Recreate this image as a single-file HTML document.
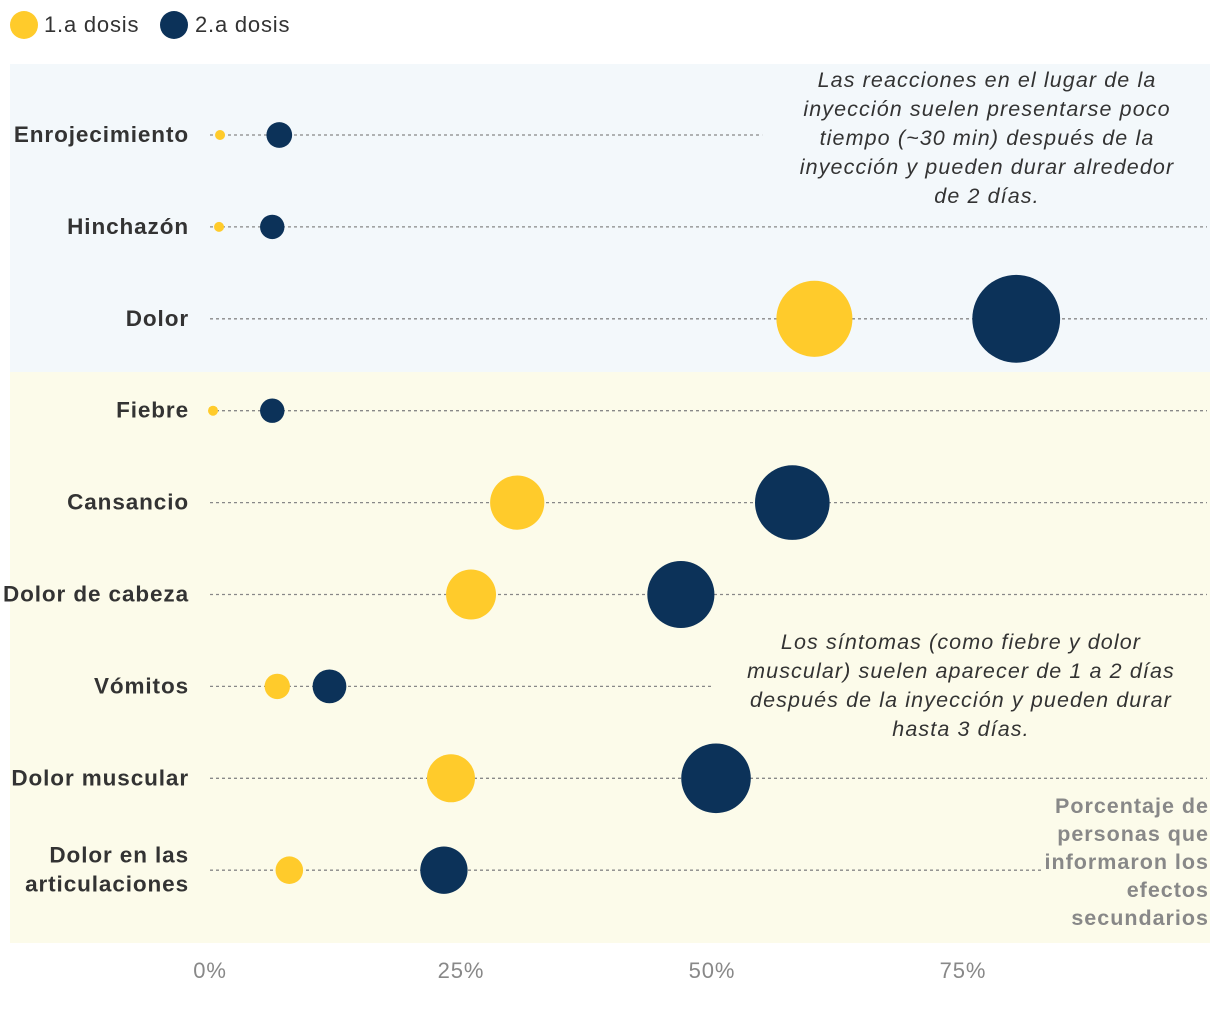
<!DOCTYPE html>
<html><head><meta charset="utf-8"><style>
body{margin:0;background:#fff;font-family:"Liberation Sans",sans-serif;}
svg{display:block}
</style></head><body>
<svg id="chart" width="1220" height="1010">
<rect x="10" y="64" width="1200" height="308" fill="#F3F8FB"/>
<rect x="10" y="372" width="1200" height="571" fill="#FCFBEA"/>
<g>
<circle cx="24" cy="25" r="14" fill="#FFCB2B"/>
<text x="44" y="32" font-size="22" letter-spacing="0.8" fill="#333">1.a dosis</text>
<circle cx="174" cy="25" r="14" fill="#0C3259"/>
<text x="195" y="32" font-size="22" letter-spacing="0.8" fill="#333">2.a dosis</text>
</g>
<g id="rows"></g>
<g id="ticks"></g>
<g font-style="italic" font-size="21.5" letter-spacing="1.1" fill="#333" text-anchor="middle">
<text x="987" y="87">Las reacciones en el lugar de la</text>
<text x="987" y="116">inyección suelen presentarse poco</text>
<text x="987" y="145">tiempo (~30 min) después de la</text>
<text x="987" y="174">inyección y pueden durar alrededor</text>
<text x="987" y="203">de 2 días.</text>
</g>
<g font-style="italic" font-size="21.5" letter-spacing="1.1" fill="#333" text-anchor="middle">
<text x="961" y="649">Los síntomas (como fiebre y dolor</text>
<text x="961" y="678">muscular) suelen aparecer de 1 a 2 días</text>
<text x="961" y="707">después de la inyección y pueden durar</text>
<text x="961" y="736">hasta 3 días.</text>
</g>
<g font-weight="bold" font-size="21.5" letter-spacing="1" fill="#888" text-anchor="end">
<text x="1209" y="813">Porcentaje de</text>
<text x="1209" y="841">personas que</text>
<text x="1209" y="869">informaron los</text>
<text x="1209" y="897">efectos</text>
<text x="1209" y="925">secundarios</text>
</g>
</svg>
<script>
const categories=["Enrojecimiento","Hinchazón","Dolor","Fiebre","Cansancio","Dolor de cabeza","Vómitos","Dolor muscular","Dolor en las|articulaciones"];
const dose1=[1,0.9,60.2,0.3,30.6,26,6.7,24,7.9];
const dose2=[6.9,6.2,80.3,6.2,58,46.9,11.9,50.4,23.3];
const lineEnds=[55,100,100,100,100,100,50,100,83];
const tickValues=[0,25,50,75];
const tickLabels=["0%","25%","50%","75%"];
const NS="http://www.w3.org/2000/svg";
const x=v=>210+v*10.04;
const rowY=i=>135+i*91.9;
const r=v=>Math.max(5,4.9*Math.sqrt(v));
function mk(tag,attrs,parent){const e=document.createElementNS(NS,tag);for(const k in attrs)e.setAttribute(k,attrs[k]);parent.appendChild(e);return e;}
const rows=document.getElementById('rows');
categories.forEach((c,i)=>{
  const y=rowY(i);
  const ln=mk('line',{x1:210,x2:Math.min(1207,x(lineEnds[i])),y1:y,y2:y,stroke:'#888','stroke-width':1.3,'stroke-dasharray':'3,3'},rows);
  
  
  const parts=c.split('|');
  parts.forEach((p,j)=>{
    const t=mk('text',{x:189,y:y+7+(parts.length>1?(j-0.5)*29:0),'text-anchor':'end','font-size':22.5,'letter-spacing':0.9,'font-weight':'bold',fill:'#333'},rows);
    t.textContent=p;
    
    
  });
  const a=mk('circle',{cx:x(dose1[i]),cy:y,r:r(dose1[i]),fill:'#FFCB2B'},rows);
  
  
  const b=mk('circle',{cx:x(dose2[i]),cy:y,r:r(dose2[i]),fill:'#0C3259'},rows);
  
  
});
const ticks=document.getElementById('ticks');
tickValues.forEach((v,i)=>{
  const t=mk('text',{x:x(v),y:978,'text-anchor':'middle','font-size':22,'letter-spacing':0.9,fill:'#888'},ticks);
  t.textContent=tickLabels[i];
  
  
});
</script>
</body></html>
